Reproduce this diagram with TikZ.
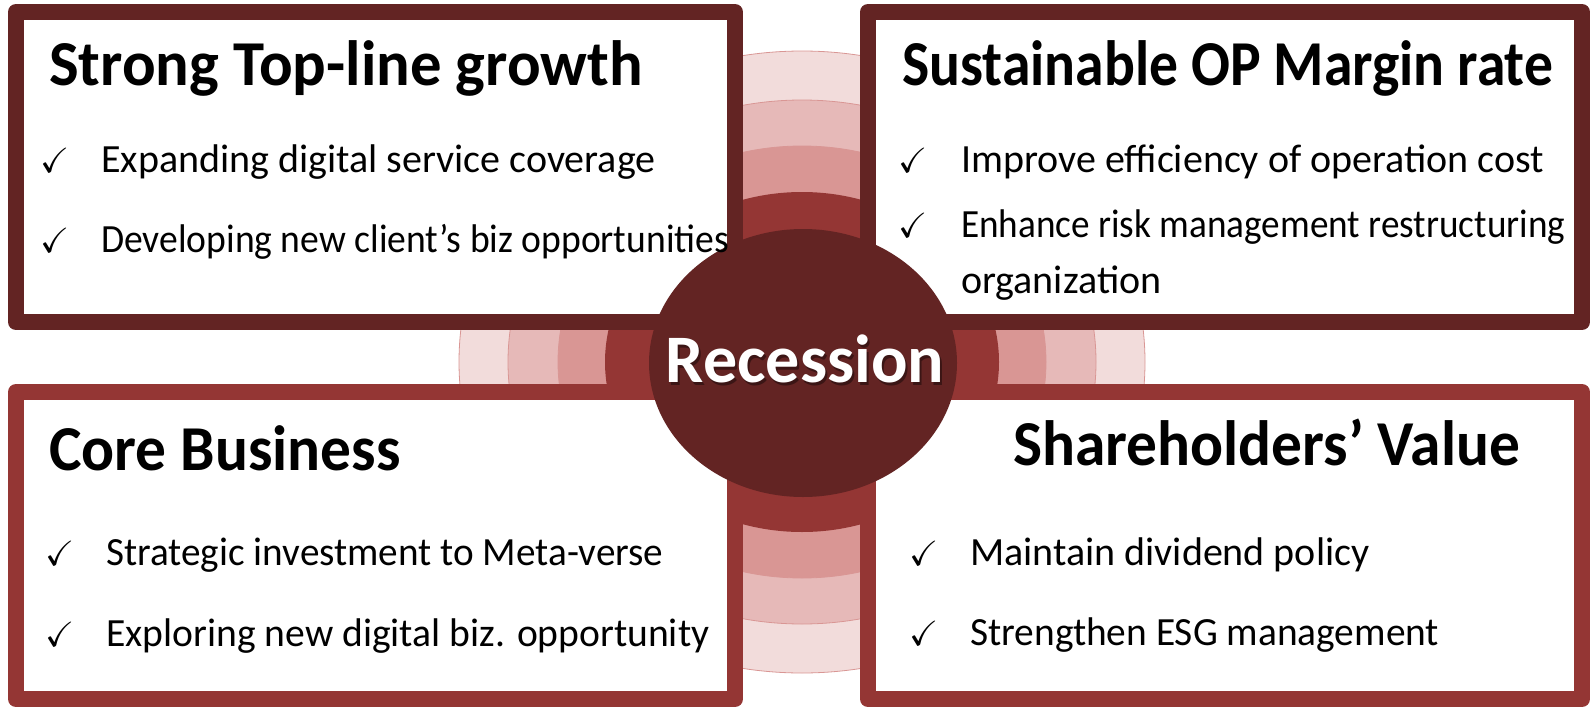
\documentclass[tikz,border=0pt]{standalone}
\usepackage{amssymb}
\usepackage{fontspec}
\setmainfont{Carlito}
\usepackage{tikz}

\definecolor{recdark}{HTML}{632423}
\definecolor{recred}{HTML}{943634}
\definecolor{ringa}{HTML}{D99694}
\definecolor{ringb}{HTML}{E6B9B8}
\definecolor{ringc}{HTML}{F2DCDB}

% horizontal squeeze of a line of text
\newcommand{\squeezed}[2]{\scalebox{#1}[1]{#2}}

\begin{document}
\begin{tikzpicture}[x=1pt,y=-1pt,
    title/.style={anchor=base west,inner sep=0pt,font=\fontsize{64}{64}\selectfont\bfseries},
    item/.style={anchor=base west,inner sep=0pt,font=\fontsize{40}{40}\selectfont},
    tick/.style={anchor=base west,inner sep=0pt,font=\fontsize{35}{35}\selectfont},
    panel/.style={fill=white,line width=16pt,line join=round},
    ring/.style={draw=ringa,line width=0.8pt}]
    \useasboundingbox (0,0) rectangle (1591,707);
    % rings behind the cross
    \filldraw [ring,fill=ringc] (802,362) ellipse (343 and 311);
    \filldraw [ring,fill=ringb] (802,362) ellipse (294 and 262);
    \filldraw [ring,fill=ringa] (802,362) ellipse (244 and 216);
    \fill [recred] (802,362) ellipse (197 and 170);
    % four panels
    \draw [panel,draw=recdark] (16,12) rectangle (735,322);
    \draw [panel,draw=recdark] (868,12) rectangle (1582,322);
    \draw [panel,draw=recred] (16,392) rectangle (735,699);
    \draw [panel,draw=recred] (868,392) rectangle (1582,699);
    % centre
    \fill [recdark] (803,363) ellipse (154 and 134);
    \draw (807,385) node [anchor=base,inner sep=0pt,text=black,opacity=0.4,font=\fontsize{68}{68}\selectfont\bfseries] (recshadow) {Recession};
    \draw (805,382) node [anchor=base,inner sep=0pt,text=white,font=\fontsize{68}{68}\selectfont\bfseries] (rec) {Recession};
    % top left
    \draw (49,85) node [title] (growth) {\squeezed{0.98}{Strong Top-line growth}};
    \draw (40,172) node [tick] (tl1) {$\checkmark$};
    \draw (101,172) node [item] (growth1) {Expanding digital service coverage};
    \draw (40,252) node [tick] (tl2) {$\checkmark$};
    \draw (101,252) node [item] (growth2) {\squeezed{0.94}{Developing new client’s biz opportunities}};
    % top right
    \draw (902,85) node [title] (margin) {\squeezed{0.9}{Sustainable OP Margin rate}};
    \draw (898,172) node [tick] (tr1) {$\checkmark$};
    \draw (961,172) node [item] (margin1) {Improve efficiency of operation cost};
    \draw (898,237) node [tick] (tr2) {$\checkmark$};
    \draw (961,237) node [item] (margin2) {\squeezed{0.93}{Enhance risk management restructuring}};
    \draw (961,293) node [item] (margin3) {organization};
    % bottom left
    \draw (49,470) node [title] (core) {\squeezed{0.96}{Core Business}};
    \draw (45,565) node [tick] (bl1) {$\checkmark$};
    \draw (106,565) node [item] (core1) {\squeezed{0.98}{Strategic investment to Meta-verse}};
    \draw (45,646) node [tick] (bl2) {$\checkmark$};
    \draw (106,646) node [item] (core2) {\squeezed{0.99}{Exploring new digital biz. opportunity}};
    % bottom right
    \draw (1013,465) node [title] (share) {\squeezed{0.96}{Shareholders’ Value}};
    \draw (909,565) node [tick] (br1) {$\checkmark$};
    \draw (970,565) node [item] (share1) {Maintain dividend policy};
    \draw (909,645) node [tick] (br2) {$\checkmark$};
    \draw (970,645) node [item] (share2) {\squeezed{0.985}{Strengthen ESG management}};
\end{tikzpicture}
\end{document}
